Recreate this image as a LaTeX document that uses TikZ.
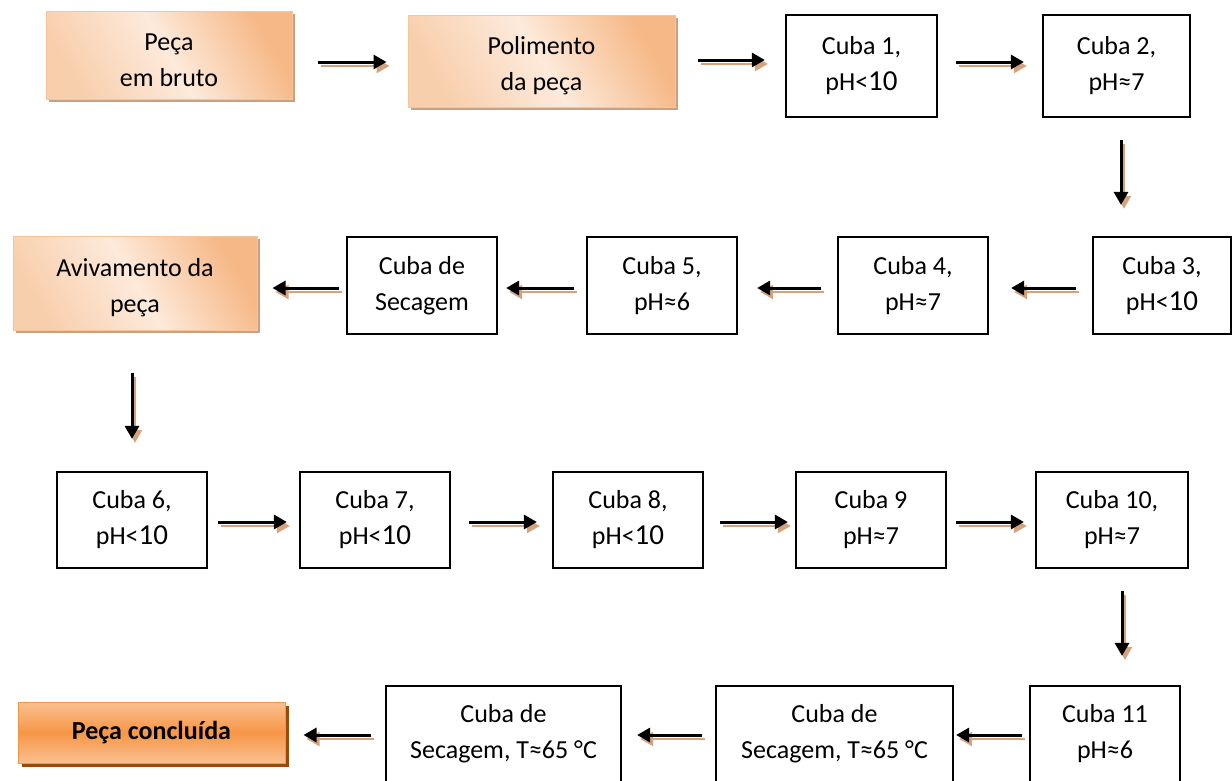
\documentclass[tikz,border=0pt]{standalone}
\usepackage{fontspec}
\setmainfont{Carlito}
\usetikzlibrary{arrows.meta,shadows}
\definecolor{arrsh}{HTML}{D4A37E}
\definecolor{pkO}{HTML}{F6B886}
\definecolor{pkW}{HTML}{FDEADB}
\definecolor{pkL}{HTML}{F8CFAD}
\definecolor{pkB}{HTML}{F8C59A}
\definecolor{pkS}{HTML}{C8A185}
\definecolor{fnO}{HTML}{F79646}
\definecolor{fnL}{HTML}{F9C090}
\definecolor{fnS}{HTML}{9A4B0C}
\pgfdeclarehorizontalshading{peachsh}{100bp}{color(0bp)=(pkL); color(25bp)=(pkL); color(50bp)=(pkW); color(75bp)=(pkO); color(100bp)=(pkO)}
\newcommand\bigten{{\fontsize{29}{36}\selectfont 10}}
\newcommand\topstrut{\rule{0pt}{27pt}}
\tikzset{
  txt/.style={align=center, inner sep=0pt, font=\fontsize{26}{36}\selectfont},
  box/.style={txt, draw=black, line width=2.2pt, fill=white},
  pbox/.style={txt, draw=pkB, line width=1pt, shading=peachsh, shading angle=30,
    general shadow={fill=pkS, shadow xshift=3pt, shadow yshift=-3pt}},
  fbox/.style={txt, font=\fontsize{26}{36}\selectfont\bfseries, draw=fnO, line width=1pt,
    top color=fnL, bottom color=fnL, middle color=fnO,
    general shadow={fill=fnS, shadow xshift=4pt, shadow yshift=-4pt}},
  arr/.style={line width=3pt, -{Triangle[length=13pt,width=14pt]},
    preaction={draw=arrsh, line width=2.5pt, transform canvas={shift={(3pt,-4pt)}}}},
}
\begin{document}
\begin{tikzpicture}[x=1pt,y=-1pt]
\useasboundingbox (0,0) rectangle (1232,780);
% row 1
\node[pbox, minimum width=246, minimum height=88] (A) at (169,55) {\topstrut Peça\\em bruto};
\node[pbox, minimum width=267, minimum height=92] (B) at (541.5,61) {\topstrut Polimento\\da peça};
\node[box, minimum width=151, minimum height=102] (C) at (861.5,66) {Cuba 1,\\pH<\bigten};
\node[box, minimum width=147, minimum height=102] (D) at (1116.5,66) {Cuba 2,\\pH≈7};
% row 2
\node[box, minimum width=138, minimum height=97] (E) at (1162,285.5) {Cuba 3,\\pH<\bigten};
\node[box, minimum width=150, minimum height=97] (F) at (913,285.5) {Cuba 4,\\pH≈7};
\node[box, minimum width=150, minimum height=97] (G) at (662,285.5) {Cuba 5,\\pH≈6};
\node[box, minimum width=150, minimum height=97] (H) at (422,285.5) {Cuba de\\Secagem};
\node[pbox, minimum width=244, minimum height=94] (I) at (135,283) {\rule{0pt}{28pt}Avivamento da\\peça};
% row 3
\node[box, minimum width=150, minimum height=96] (J) at (132,520) {Cuba 6,\\pH<\bigten};
\node[box, minimum width=150, minimum height=96] (K) at (375,520) {Cuba 7,\\pH<\bigten};
\node[box, minimum width=150, minimum height=96] (L) at (628,520) {Cuba 8,\\pH<\bigten};
\node[box, minimum width=150, minimum height=96] (M) at (871,520) {Cuba 9\\pH≈7};
\node[box, minimum width=152, minimum height=96] (N) at (1112,520) {Cuba 10,\\pH≈7};
% row 4
\node[box, minimum width=150, minimum height=96] (O) at (1105,734) {Cuba 11\\pH≈6};
\node[box, minimum width=237, minimum height=96] (P) at (834.5,734) {Cuba de\\Secagem, T≈65 °C};
\node[box, minimum width=235, minimum height=96] (Q) at (503.5,734) {Cuba de\\Secagem, T≈65 °C};
\node[fbox, minimum width=267, minimum height=61] (R) at (151.5,732.5) {Peça concluída};
% connectors
\draw[arr] ([shift={(25,7)}]A.east) -- ([shift={(-21,1)}]B.west);
\draw[arr] ([shift={(22,-1)}]B.east) -- ([shift={(-20,-6)}]C.west);
\draw[arr] ([shift={(18,-4)}]C.east) -- ([shift={(-18,-4)}]D.west);
\draw[arr] ([shift={(4.5,22)}]D.south) -- ([shift={(-41,-31)}]E.north);
\draw[arr] ([shift={(-16,2.5)}]E.west) -- ([shift={(22,2.5)}]F.east);
\draw[arr] ([shift={(-16,2.5)}]F.west) -- ([shift={(19,2.5)}]G.east);
\draw[arr] ([shift={(-12,2.5)}]G.west) -- ([shift={(8,2.5)}]H.east);
\draw[arr] ([shift={(-7,2.5)}]H.west) -- ([shift={(15,5)}]I.east);
\draw[arr] ([shift={(-3,42)}]I.south) -- ([shift={(0,-32)}]J.north);
\draw[arr] ([shift={(10,2)}]J.east) -- ([shift={(-12,2)}]K.west);
\draw[arr] ([shift={(18,2)}]K.east) -- ([shift={(-15,2)}]L.west);
\draw[arr] ([shift={(16,2)}]L.east) -- ([shift={(-7,2)}]M.west);
\draw[arr] ([shift={(9,2)}]M.east) -- ([shift={(-11,2)}]N.west);
\draw[arr] ([shift={(10,22)}]N.south) -- ([shift={(17,-29)}]O.north);
\draw[arr] ([shift={(-7,1)}]O.west) -- ([shift={(2,1)}]P.east);
\draw[arr] ([shift={(-13,1)}]P.west) -- ([shift={(15,1)}]Q.east);
\draw[arr] ([shift={(-14,1)}]Q.west) -- ([shift={(18,2.5)}]R.east);
\end{tikzpicture}
\end{document}
